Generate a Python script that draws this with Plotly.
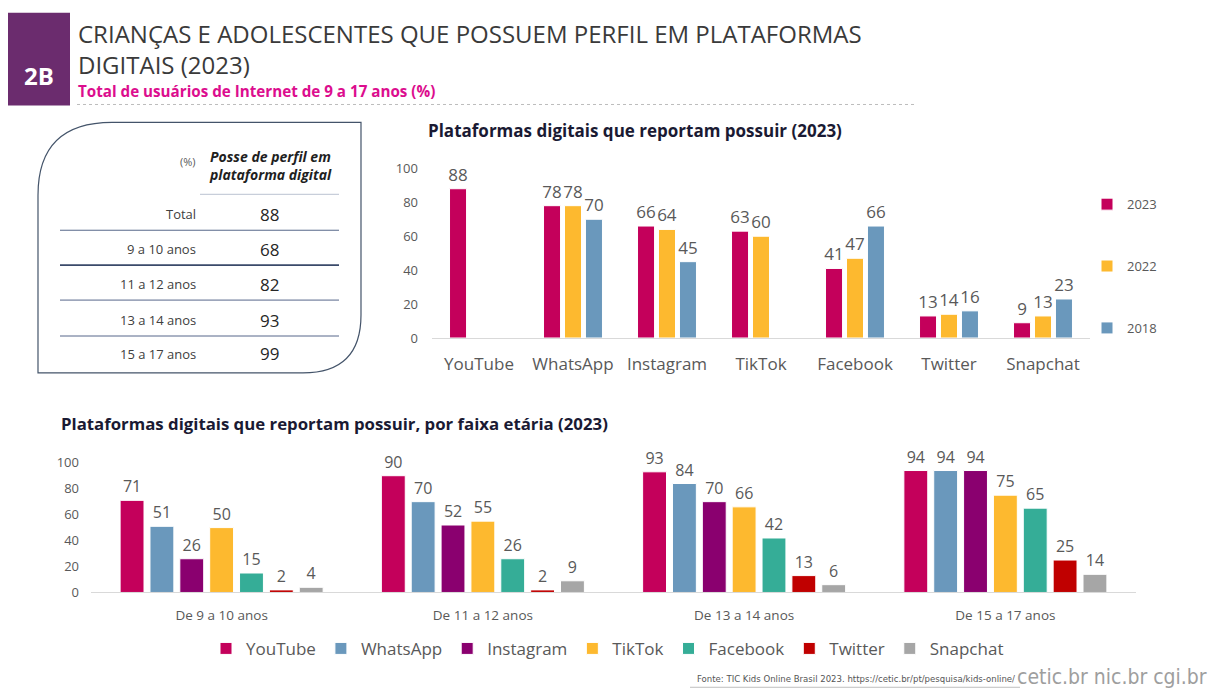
import plotly.graph_objects as go

W, H = 1212, 691
# Measured photographing transform of this harness: window_y ≈ 8.3 + 0.976 * figure_y.
# Layout positions below are given in target window pixels and mapped back through it.
Y_OFF, Y_SCALE = 8.3, 0.976


def px(x):
    return x / W


def py(y):
    return 1 - ((y - Y_OFF) / Y_SCALE) / H


# ---------------- data ----------------
platforms = ["YouTube", "WhatsApp", "Instagram", "TikTok", "Facebook", "Twitter", "Snapchat"]
years = ["2023", "2022", "2018"]
share_2023 = [88, 78, 66, 63, 41, 13, 9]
share_2022 = [None, 78, 64, 60, 47, 14, 13]
share_2018 = [None, 70, 45, None, 66, 16, 23]

age_groups = ["De 9 a 10 anos", "De 11 a 12 anos", "De 13 a 14 anos", "De 15 a 17 anos"]
youtube = [71, 90, 93, 94]
whatsapp = [51, 70, 84, 94]
instagram = [26, 52, 70, 94]
tiktok = [50, 55, 66, 75]
facebook = [15, 26, 42, 65]
twitter = [2, 2, 13, 25]
snapchat = [4, 9, 6, 14]

table_labels = ["Total", "9 a 10 anos", "11 a 12 anos", "13 a 14 anos", "15 a 17 anos"]
table_values = [88, 68, 82, 93, 99]

# ---------------- styles ----------------
FONT = "Open Sans, Noto Sans, DejaVu Sans, sans-serif"
NARROW = "Liberation Sans Narrow, DejaVu Sans Condensed, sans-serif"
GRAY = "#595959"
C_YT = "#C4005B"
C_WA = "#6A98BC"
C_IG = "#8A006F"
C_TT = "#FDB92F"
C_FB = "#35AD97"
C_TW = "#C00000"
C_SC = "#A6A6A6"

year_colors = [C_YT, C_TT, C_WA]
age_series = [
    ("YouTube", youtube, C_YT),
    ("WhatsApp", whatsapp, C_WA),
    ("Instagram", instagram, C_IG),
    ("TikTok", tiktok, C_TT),
    ("Facebook", facebook, C_FB),
    ("Twitter", twitter, C_TW),
    ("Snapchat", snapchat, C_SC),
]

fig = go.Figure()

# top chart: platforms by year
bar_w = 0.181
pitch = 0.223
for i, (yr, vals, col) in enumerate(zip(years, [share_2023, share_2022, share_2018], year_colors)):
    center = (i - 1) * pitch
    fig.add_trace(go.Bar(
        x=platforms, y=vals, name=yr,
        marker=dict(color=col, line=dict(color="white", width=1)),
        width=bar_w, offset=center - bar_w / 2,
        texttemplate="%{y}", textposition="outside",
        textfont=dict(size=17, color=GRAY, family=FONT),
        constraintext="none", textangle=0, cliponaxis=False,
        xaxis="x", yaxis="y", legend="legend", legendgroup=yr,
    ))

# bottom chart: by age group
for name, vals, col in age_series:
    fig.add_trace(go.Bar(
        x=age_groups, y=vals, name=name,
        marker=dict(color=col, line=dict(color="white", width=1)),
        texttemplate="%{y}", textposition="outside",
        textfont=dict(size=16, color=GRAY, family=FONT),
        constraintext="none", textangle=0, cliponaxis=False,
        xaxis="x2", yaxis="y2", legend="legend2",
    ))

annotations = []
shapes = []


def note(text, x, y, size, color, xanchor="center", family=FONT):
    annotations.append(dict(text=text, x=px(x), y=py(y), xref="paper", yref="paper",
                            xanchor=xanchor, yanchor="middle", showarrow=False, align="left",
                            font=dict(size=size, color=color, family=family)))


def hline(x0, x1, y, color, width=1, dash="solid"):
    shapes.append(dict(type="line", xref="paper", yref="paper", x0=px(x0), x1=px(x1),
                       y0=py(y), y1=py(y), line=dict(color=color, width=width, dash=dash)))


# header block
shapes.append(dict(type="rect", xref="paper", yref="paper",
                   x0=px(8), x1=px(70), y0=py(105), y1=py(12),
                   fillcolor="#6B2C6E", line=dict(width=0), layer="below"))
note("<b>2B</b>", 39, 75, 24, "white")
note("CRIANÇAS E ADOLESCENTES QUE POSSUEM PERFIL EM PLATAFORMAS<br>DIGITAIS (2023)", 76, 48, 24,
     "#3A3A3A", "left")
note("<b>Total de usuários de Internet de 9 a 17 anos (%)</b>", 76, 90, 15.2, "#DC0D8E", "left")
hline(77, 915, 104, "#BDBDBD", 1, "dot")


# table box
def P(x, y):
    return f"{px(x):.5f},{py(y):.5f}"


box_path = (f"M {P(38, 373)} L {P(38, 195)} Q {P(38, 122)} {P(112, 122)} L {P(361, 122)} "
            f"L {P(361, 315)} Q {P(361, 373)} {P(303, 373)} Z")
shapes.append(dict(type="path", xref="paper", yref="paper", path=box_path,
                   line=dict(color="#44546A", width=1.2)))
note("(%)", 198, 161, 11, GRAY, "right")
note("<b><i>Posse de perfil em<br>plataforma digital</i></b>", 270, 165, 14, "#1F1F1F")
hline(200, 339, 194, "#C8CEDA", 1.2)
row_y = [214, 249, 284, 320, 354]
line_y = [230, 265, 300, 336]
for lab, val, ry in zip(table_labels, table_values, row_y):
    note(lab, 198, ry, 13, "#404040", "right")
    note(str(val), 269, ry, 17, "#262626")
for k, ly in enumerate(line_y):
    hline(60, 339, ly, "#3A4A6A" if k == 1 else "#56678A", 1.6 if k == 1 else 1)

# chart titles
note("<b>Plataformas digitais que reportam possuir (2023)</b>", 635, 130, 17, "#1A1A33")
note("<b>Plataformas digitais que reportam possuir, por faixa etária (2023)</b>", 59, 424, 16.8,
     "#1A1A33", "left")

# footer
note("Fonte: TIC Kids Online Brasil 2023. https://cetic.br/pt/pesquisa/kids-online/", 1017, 679, 9.5,
     "#555555", "right", NARROW)
hline(690, 1020, 688, "#BFBFBF", 1)
note("cetic.br nic.br cgi.br", 1209, 678, 21, "#9E9E9E", "right", NARROW)

axis_common = dict(showgrid=False, zeroline=False, ticks="", fixedrange=True)

fig.update_layout(
    width=W, height=H,
    margin=dict(l=0, r=0, t=0, b=0),
    paper_bgcolor="white", plot_bgcolor="white",
    font=dict(family=FONT, color=GRAY),
    barmode="group", bargap=0.2, bargroupgap=0.2,
    xaxis=dict(domain=[px(432), px(1090)], anchor="y", showline=True, linecolor="#D9D9D9", linewidth=1,
               tickfont=dict(size=17, color=GRAY), ticklabelstandoff=11, **axis_common),
    yaxis=dict(domain=[py(338), py(168)], anchor="x", range=[0, 100], dtick=20,
               tickfont=dict(size=13, color=GRAY), ticklabelstandoff=13, showline=False, **axis_common),
    xaxis2=dict(domain=[px(91), px(1136)], anchor="y2", showline=True, linecolor="#D9D9D9", linewidth=1,
                tickfont=dict(size=13.5, color=GRAY), ticklabelstandoff=10, **axis_common),
    yaxis2=dict(domain=[py(593), py(463)], anchor="x2", range=[0, 100], dtick=20,
                tickfont=dict(size=13, color=GRAY), ticklabelstandoff=11, showline=False, **axis_common),
    legend=dict(x=px(1087), y=py(185 * Y_SCALE + Y_OFF), xanchor="left", yanchor="top", orientation="v",
                font=dict(size=13, color=GRAY), tracegroupgap=42, bgcolor="rgba(0,0,0,0)",
                itemclick=False, itemdoubleclick=False),
    legend2=dict(x=px(206), y=py(638.5 * Y_SCALE + Y_OFF), xanchor="left", yanchor="top", orientation="h",
                 font=dict(size=17, color=GRAY), bgcolor="rgba(0,0,0,0)",
                 itemclick=False, itemdoubleclick=False),
    annotations=annotations,
    shapes=shapes,
    showlegend=True,
)

fig.write_html("out.html", config={"displayModeBar": False},
               post_script="document.body.style.margin='0';")
